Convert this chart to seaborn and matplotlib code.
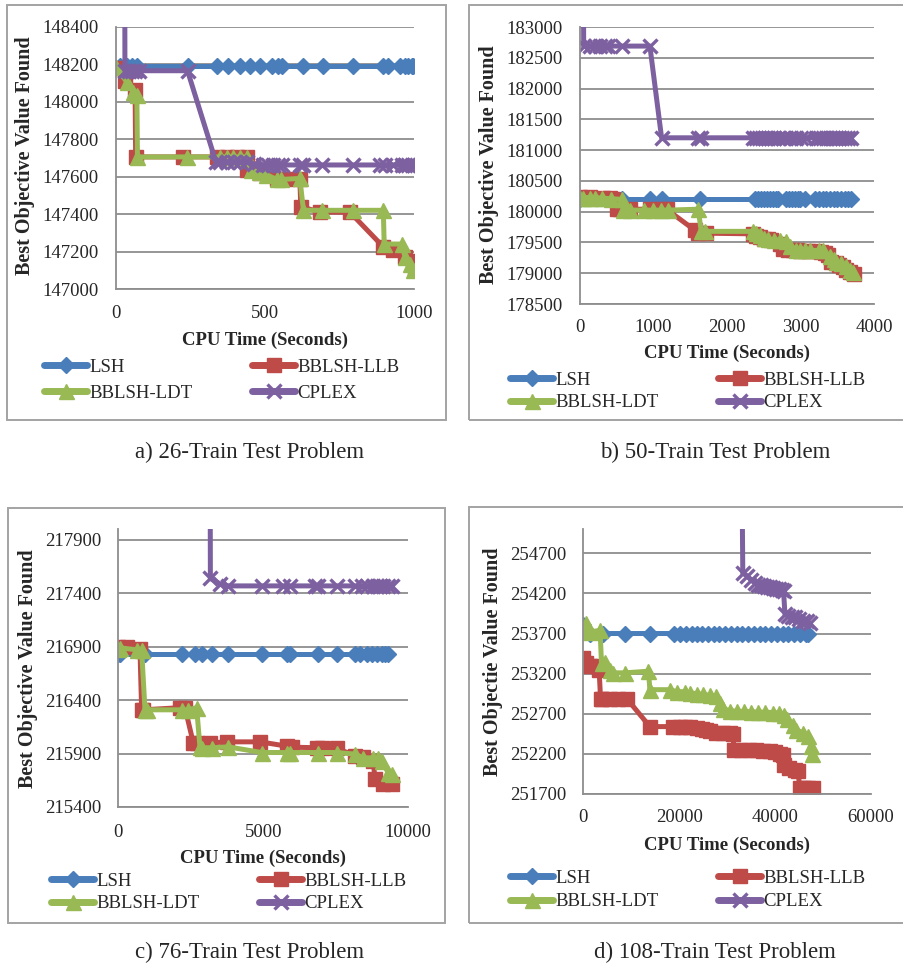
import matplotlib
matplotlib.use("Agg")
import matplotlib.pyplot as plt
import seaborn as sns
from matplotlib.lines import Line2D
from matplotlib.patches import Rectangle

# ---------------- data: (a) 26-Train ----------------
a_lsh_x = [15, 36, 55, 70, 243, 338, 377, 416, 450, 483, 525, 542, 556, 629, 694, 794, 897, 914, 953, 970, 981, 992, 998]
a_lsh_y = [148190, 148190, 148190, 148190, 148190, 148190, 148190, 148190, 148190, 148190, 148190, 148190,
           148190, 148190, 148190, 148190, 148190, 148190, 148190, 148190, 148190, 148190, 148190]
a_llb_x = [0, 30, 64, 66, 226, 338, 371, 405, 438, 441, 483, 539, 575, 617, 620, 685, 785, 897, 930, 970, 998, 1002]
a_llb_y = [148180, 148110, 148060, 147705, 147705, 147705, 147705, 147705, 147705, 147635, 147620, 147585,
           147585, 147585, 147440, 147410, 147410, 147225, 147210, 147170, 147150, 147110]
a_ldt_x = [0, 36, 58, 70, 72, 237, 349, 371, 394, 416, 438, 452, 480, 505, 539, 555, 617, 629, 690, 796,
           897, 900, 959, 970, 985, 998]
a_ldt_y = [148185, 148105, 148052, 148035, 147705, 147705, 147705, 147705, 147705, 147705, 147705, 147635,
           147625, 147610, 147585, 147585, 147590, 147420, 147420, 147420, 147420, 147240, 147240, 147170,
           147135, 147100]
a_cplex_x = [27, 30, 45, 55, 65, 78, 240, 335, 350, 372, 395, 416, 438, 462, 494, 511, 528, 545, 556, 617,
             629, 690, 796, 886, 903, 931, 959, 970, 981, 992, 1000]
a_cplex_y = [150500, 148165, 148165, 148165, 148165, 148165, 148165, 147680, 147680, 147680, 147680, 147680,
             147680, 147665, 147662, 147662, 147662, 147662, 147662, 147662, 147662, 147662, 147662, 147662,
             147662, 147662, 147662, 147662, 147662, 147662, 147662]

# ---------------- data: (b) 50-Train ----------------
b_lsh_x = [0, 566, 951, 1110, 1630, 2380, 2420, 2460, 2500, 2540, 2580, 2620, 2660, 2700, 2800, 2840, 2880,
           2920, 2960, 3000, 3060, 3200, 3250, 3300, 3350, 3400, 3450, 3500, 3550, 3600, 3650, 3690]
b_lsh_y = [180210, 180210, 180210, 180210, 180210, 180210, 180210, 180210, 180210, 180210, 180210, 180210,
           180210, 180210, 180210, 180210, 180210, 180210, 180210, 180210, 180210, 180210, 180210, 180210,
           180210, 180210, 180210, 180210, 180210, 180210, 180210, 180210]
b_llb_x = [0, 136, 317, 408, 450, 500, 543, 680, 951, 1110, 1177, 1560, 1600, 1720, 2355, 2400, 2450, 2500,
           2560, 2600, 2720, 2760, 2830, 2900, 2950, 3000, 3100, 3200, 3280, 3330, 3380, 3420, 3480, 3530,
           3580, 3620, 3680, 3730]
b_llb_y = [180240, 180240, 180230, 180230, 180200, 180040, 180040, 180040, 180040, 180040, 180040, 179700,
           179650, 179650, 179640, 179600, 179590, 179560, 179550, 179540, 179470, 179400, 179380, 179370,
           179370, 179360, 179360, 179360, 179350, 179330, 179300, 179190, 179160, 179130, 179100, 179050,
           179020, 178990]
b_ldt_x = [0, 40, 130, 200, 300, 420, 566, 590, 680, 870, 1000, 1100, 1200, 1608, 1650, 1700, 2355, 2400,
           2450, 2500, 2560, 2640, 2720, 2808, 2860, 2944, 3000, 3060, 3125, 3250, 3306, 3397, 3450, 3487,
           3550, 3623, 3680, 3714]
b_ldt_y = [180230, 180230, 180230, 180230, 180220, 180210, 180200, 180025, 180025, 180025, 180025, 180025,
           180025, 180040, 179680, 179680, 179680, 179650, 179620, 179580, 179560, 179540, 179540, 179530,
           179450, 179380, 179370, 179370, 179370, 179370, 179370, 179280, 179230, 179180, 179160, 179110,
           179060, 179020]
b_cplex_x = [45, 50, 136, 204, 272, 340, 385, 566, 951, 1110, 1608, 1653, 2355, 2400, 2440, 2480, 2520,
             2560, 2600, 2640, 2700, 2760, 2808, 2876, 2944, 3012, 3080, 3215, 3260, 3300, 3350, 3400, 3440,
             3487, 3530, 3570, 3610, 3650, 3691]
b_cplex_y = [184500, 182690, 182690, 182690, 182690, 182690, 182690, 182690, 182690, 181200, 181200, 181200,
             181200, 181200, 181200, 181200, 181200, 181200, 181200, 181200, 181200, 181200, 181200, 181200,
             181200, 181200, 181200, 181200, 181200, 181200, 181200, 181200, 181200, 181200, 181200, 181200,
             181200, 181200, 181200]

# ---------------- data: (c) 76-Train ----------------
c_lsh_x = [0, 57, 920, 2184, 2644, 2874, 3218, 3793, 4943, 5805, 5920, 6897, 7529, 8161, 8333, 8563, 8736,
           8908, 9080, 9195, 9310]
c_lsh_y = [216830, 216830, 216830, 216830, 216830, 216830, 216830, 216830, 216830, 216830, 216830, 216830,
           216830, 216830, 216830, 216830, 216830, 216830, 216830, 216830, 216830]
c_llb_x = [0, 287, 747, 805, 862, 2126, 2299, 2586, 2700, 3161, 3736, 4885, 5805, 5980, 6839, 7012, 7529,
           8161, 8448, 8793, 8850, 9138, 9425]
c_llb_y = [216900, 216900, 216880, 216310, 216310, 216330, 216330, 216000, 216000, 216000, 216010, 216010,
           215970, 215960, 215955, 215955, 215950, 215880, 215870, 215830, 215660, 215620, 215620]
c_ldt_x = [0, 57, 632, 805, 920, 977, 2184, 2414, 2701, 2816, 2874, 3218, 3793, 4943, 5805, 5920, 6897,
           7529, 8161, 8448, 8793, 8966, 9080, 9310, 9425]
c_ldt_y = [216880, 216890, 216872, 216870, 216310, 216310, 216310, 216310, 216330, 215960, 215955, 215955,
           215963, 215910, 215910, 215910, 215910, 215910, 215895, 215860, 215860, 215855, 215830, 215720,
           215705]
c_cplex_x = [3161, 3175, 3500, 3793, 4943, 5690, 5920, 6782, 6897, 7529, 8161, 8391, 8563, 8793, 8908,
             9023, 9138, 9310, 9425]
c_cplex_y = [219500, 217540, 217490, 217470, 217470, 217470, 217470, 217470, 217470, 217470, 217470, 217470,
             217470, 217470, 217470, 217470, 217470, 217470, 217470]

# ---------------- data: (d) 108-Train ----------------
d_lsh_x = [0, 1500, 4200, 8700, 13900, 19000, 20200, 21400, 22600, 23800, 24800, 26000, 27200, 28400,
           29600, 30800, 32000, 33200, 34400, 35600, 36800, 38000, 39200, 40400, 41600, 42800, 44000,
           45200, 46400, 47000]
d_lsh_y = [253800, 253700, 253700, 253700, 253700, 253700, 253700, 253700, 253700, 253700, 253700, 253700,
           253700, 253700, 253700, 253700, 253700, 253700, 253700, 253700, 253700, 253700, 253700, 253700,
           253700, 253700, 253700, 253700, 253700, 253700]
d_llb_x = [0, 500, 1400, 2800, 3300, 3600, 3800, 5570, 7300, 9050, 13900, 18800, 20200, 21200, 22300,
           23700, 24700, 25700, 26500, 27800, 29200, 30600, 31300, 31400, 33000, 34500, 36000, 37500,
           39000, 40000, 41000, 41700, 42000, 43000, 44200, 44800, 45200, 46000, 47000, 48000]
d_llb_y = [253400, 253330, 253290, 253290, 253250, 252890, 252890, 252890, 252890, 252890, 252540, 252540,
           252540, 252530, 252530, 252520, 252510, 252500, 252480, 252460, 252460, 252455, 252450, 252250,
           252250, 252245, 252245, 252240, 252230, 252220, 252200, 252190, 252060, 252030, 252000, 251990,
           251780, 251775, 251775, 251775]
d_ldt_x = [0, 500, 1500, 3500, 3800, 4500, 5500, 6300, 8700, 13600, 13900, 18100, 19500, 21200, 22300,
           23700, 25000, 26500, 27800, 28500, 29200, 30600, 32000, 33500, 35000, 36500, 38000, 39500, 40800,
           41800, 42500, 43800, 44500, 45900, 47000, 47500, 47700]
d_ldt_y = [253760, 253830, 253720, 253740, 253330, 253350, 253250, 253210, 253210, 253230, 253000, 253000,
           252975, 252975, 252960, 252950, 252940, 252930, 252920, 252830, 252760, 252740, 252730, 252730,
           252725, 252720, 252720, 252715, 252710, 252690, 252640, 252560, 252500, 252460, 252420, 252300,
           252200]
d_cplex_x = [33000, 33300, 34200, 35000, 35800, 36500, 37200, 37800, 38400, 39000, 39600, 40200, 40800,
             41400, 41800, 42100, 42700, 43500, 44300, 45000, 45900, 46600, 47300]
d_cplex_y = [256500, 254450, 254420, 254370, 254330, 254310, 254300, 254290, 254280, 254275, 254265,
             254260, 254250, 254240, 254235, 253940, 253920, 253910, 253900, 253880, 253860, 253850, 253830]

series_names = ["LSH", "BBLSH-LLB", "BBLSH-LDT", "CPLEX"]
captions = ["a) 26-Train Test Problem", "b) 50-Train Test Problem",
            "c) 76-Train Test Problem", "d) 108-Train Test Problem"]
ylabels = ["Best Objective Value Found", "Best Objective Value Found",
           "Best Objective Value Found", "Best Objectie Value Found"]
xlabel = "CPU Time (Seconds)"

a_yticks = [147000, 147200, 147400, 147600, 147800, 148000, 148200, 148400]
b_yticks = [178500, 179000, 179500, 180000, 180500, 181000, 181500, 182000, 182500, 183000]
c_yticks = [215400, 215900, 216400, 216900, 217400, 217900]
d_yticks = [251700, 252200, 252700, 253200, 253700, 254200, 254700]
a_xticks = [0, 500, 1000]
b_xticks = [0, 1000, 2000, 3000, 4000]
c_xticks = [0, 5000, 10000]
d_xticks = [0, 20000, 40000, 60000]

# ---------------- styling ----------------
sns.set_style("white")
plt.rcParams["font.family"] = ["Liberation Serif", "DejaVu Serif"]

STYLE = {
    "LSH": dict(color="#4A7EBB", marker="D", markersize=8.2, markeredgewidth=1.0),
    "BBLSH-LLB": dict(color="#BE4B48", marker="s", markersize=9.8, markeredgewidth=1.0),
    "BBLSH-LDT": dict(color="#98B954", marker="^", markersize=10.8, markeredgewidth=1.0),
    "CPLEX": dict(color="#7D60A0", marker="x", markersize=9.5, markeredgewidth=2.4),
}
GRID = "#8E8E8E"
BOX = "#A3A3A3"
FS = 13.5

W, H = 904, 968
fig = plt.figure(figsize=(W / 100, H / 100), dpi=100)


def fx(px):
    return px / W


def fy(py):
    return 1 - py / H


panels = [
    dict(rect=(116, 26.7, 414, 289), ylim=(147000, 148400), yt=a_yticks, xlim=(0, 1000), xt=a_xticks,
         series=[(a_lsh_x, a_lsh_y), (a_llb_x, a_llb_y), (a_ldt_x, a_ldt_y), (a_cplex_x, a_cplex_y)],
         box=(7, 5, 446, 420), ylab=(25.5, 156), xlab=(265, 340), leg=(44, 380, 28), cap=(250, 452),
         xpad=11.5, ypad=12.5),
    dict(rect=(580, 27, 874, 304), ylim=(178500, 183000), yt=b_yticks, xlim=(0, 4000), xt=b_xticks,
         series=[(b_lsh_x, b_lsh_y), (b_llb_x, b_llb_y), (b_ldt_x, b_ldt_y), (b_cplex_x, b_cplex_y)],
         box=(469, 5, 912, 420), ylab=(489.5, 165), xlab=(727, 353), leg=(510, 391.5, 24), cap=(715, 452),
         xpad=10.5, ypad=12.5),
    dict(rect=(118.3, 529.3, 408.3, 807), ylim=(215400, 218000), yt=c_yticks, xlim=(0, 10000), xt=c_xticks,
         series=[(c_lsh_x, c_lsh_y), (c_llb_x, c_llb_y), (c_ldt_x, c_ldt_y), (c_cplex_x, c_cplex_y)],
         box=(8, 508, 445, 923), ylab=(28, 669), xlab=(263, 858), leg=(51, 892.5, 24), cap=(250, 952),
         xpad=12.5, ypad=12.5),
    dict(rect=(583.3, 529.2, 870.7, 794), ylim=(251700, 255000), yt=d_yticks, xlim=(0, 60000), xt=d_xticks,
         series=[(d_lsh_x, d_lsh_y), (d_llb_x, d_llb_y), (d_ldt_x, d_ldt_y), (d_cplex_x, d_cplex_y)],
         box=(469, 507, 912, 923), ylab=(493.5, 662), xlab=(727, 845), leg=(510, 890, 25), cap=(715, 952),
         xpad=11.0, ypad=12.5),
]

for i, p in enumerate(panels):
    # outer chart frame
    x0, y0, x1, y1 = p["box"]
    fig.add_artist(Rectangle((fx(x0), fy(y1)), (x1 - x0) / W, (y1 - y0) / H, transform=fig.transFigure,
                             fill=False, ec=BOX, lw=1.4))

    l, t, r, b = p["rect"]
    ax = fig.add_axes([fx(l), fy(b), (r - l) / W, (b - t) / H])
    for name, (xs, ys) in zip(series_names, p["series"]):
        st = STYLE[name]
        sns.lineplot(x=xs, y=ys, ax=ax, sort=False, estimator=None, legend=False,
                     color=st["color"], marker=st["marker"], markersize=st["markersize"],
                     markeredgewidth=st["markeredgewidth"], markeredgecolor=st["color"],
                     markerfacecolor=st["color"], linewidth=3.6, clip_on=True)

    ax.set_xlim(*p["xlim"])
    ax.set_ylim(*p["ylim"])
    ax.set_xticks(p["xt"])
    ax.set_yticks(p["yt"])
    ax.set_xticklabels([str(v) for v in p["xt"]])
    ax.set_yticklabels([str(v) for v in p["yt"]])
    ax.set_xlabel("")
    ax.set_ylabel("")
    ax.tick_params(axis="both", length=0, labelsize=FS)
    ax.tick_params(axis="x", pad=p["xpad"])
    ax.tick_params(axis="y", pad=p["ypad"])
    ax.yaxis.grid(True, color=GRID, lw=1.3)
    ax.xaxis.grid(False)
    ax.set_axisbelow(True)
    for s in ["top", "right"]:
        ax.spines[s].set_visible(False)
    for s in ["left", "bottom"]:
        ax.spines[s].set_color(GRID)
        ax.spines[s].set_linewidth(1.3)
    ax.patch.set_alpha(0)

    # axis titles
    fig.text(fx(p["ylab"][0]), fy(p["ylab"][1]), ylabels[i], rotation=90, ha="center", va="center",
             fontsize=14.5, fontweight="bold")
    fig.text(fx(p["xlab"][0]), fy(p["xlab"][1]), xlabel, ha="center", va="center",
             fontsize=FS, fontweight="bold")

    # legend, two columns: LSH / BBLSH-LLB on the first row
    handles = {}
    for name in series_names:
        st = STYLE[name]
        handles[name] = Line2D([0], [0], color=st["color"], lw=5, marker=st["marker"],
                               markersize=st["markersize"], markeredgewidth=st["markeredgewidth"],
                               markeredgecolor=st["color"], markerfacecolor=st["color"])
    order = ["LSH", "BBLSH-LDT", "BBLSH-LLB", "CPLEX"]
    lx, lyc, rowgap = p["leg"]
    fig.legend([handles[n] for n in order], order, ncol=2, loc="center left",
               bbox_to_anchor=(fx(lx), fy(lyc)), frameon=False, fontsize=FS,
               handlelength=2.3, handletextpad=0.1, columnspacing=3.2,
               labelspacing=(rowgap - 19) / 18.75, borderpad=0, borderaxespad=0, numpoints=1)

    fig.text(fx(p["cap"][0]), fy(p["cap"][1]), captions[i], ha="center", va="center", fontsize=16.5)

fig.savefig("out.png", dpi=100)
